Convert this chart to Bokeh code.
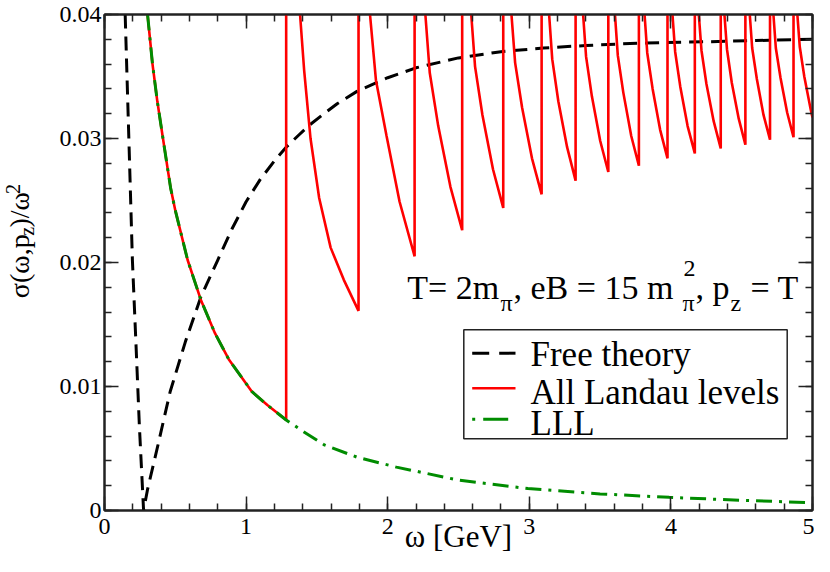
import numpy as np
from bokeh.plotting import figure
from bokeh.layouts import row
from bokeh.models import (Range1d, FixedTicker, LinearAxis, Label, BoxAnnotation, Arrow)
from bokeh.embed import file_html
from bokeh.resources import INLINE

# ---------------- data ----------------
# Free theory (black dashed)
free_w = [0.146, 0.172, 0.197, 0.222, 0.246, 0.276, 0.304, 0.378, 0.464, 0.571,
          0.680, 0.800, 0.900, 1.000, 1.100, 1.200, 1.283, 1.365, 1.450, 1.550,
          1.643, 1.783, 2.000, 2.200, 2.500, 2.800, 3.100, 3.400, 3.800, 4.240,
          4.600, 5.000]
free_s = [0.0400, 0.0300, 0.0202, 0.0135, 0.0069, 0.0000, 0.0017, 0.0053, 0.0096, 0.0136,
          0.0172, 0.0202, 0.0227, 0.0249, 0.0267, 0.0282, 0.0293, 0.0302, 0.0311, 0.0320,
          0.0328, 0.0338, 0.0349, 0.0357, 0.0365, 0.0370, 0.0373, 0.0375, 0.0377, 0.0378,
          0.0379, 0.0380]

# Lowest Landau level (green dash-dot)
lll_w = [0.304, 0.339, 0.373, 0.413, 0.467, 0.500, 0.587, 0.680, 0.780, 0.877,
         1.040, 1.150, 1.283, 1.400, 1.551, 1.783, 2.061, 2.500, 2.990, 3.500,
         3.988, 4.500, 5.000]
lll_s = [0.0400, 0.0360, 0.0330, 0.0300, 0.0260, 0.0242, 0.0202, 0.0170, 0.0143, 0.0122,
         0.0096, 0.0085, 0.0073, 0.0064, 0.0053, 0.0043, 0.0035, 0.00245, 0.00177, 0.00134,
         0.00106, 0.00082, 0.00063]

# All Landau levels (red): follows the LLL up to the first threshold, then saw teeth
all_w = [1.283, 1.381, 1.410, 1.455, 1.516, 1.597, 1.690, 1.794,
         1.794, 1.875, 1.917, 1.992, 2.084, 2.190,
         2.190, 2.266, 2.297, 2.357, 2.443, 2.526,
         2.526, 2.590, 2.617, 2.669, 2.744, 2.816,
         2.816, 2.874, 2.900, 2.949, 3.019, 3.087,
         3.087, 3.140, 3.162, 3.205, 3.267, 3.327,
         3.327, 3.380, 3.401, 3.442, 3.501, 3.558,
         3.558, 3.605, 3.625, 3.664, 3.720, 3.774,
         3.774, 3.814, 3.833, 3.871, 3.924, 3.976,
         3.976, 4.011, 4.030, 4.066, 4.118, 4.169,
         4.169, 4.197, 4.216, 4.251, 4.302, 4.352,
         4.352, 4.378, 4.396, 4.430, 4.479, 4.526,
         4.526, 4.557, 4.574, 4.607, 4.654, 4.700,
         4.700, 4.724, 4.741, 4.774, 4.821, 4.866,
         4.866, 4.893, 4.910, 4.942, 4.988, 5.000]
all_s = [0.045, 0.0400, 0.0355, 0.0300, 0.0252, 0.0212, 0.0186, 0.0161,
         0.045, 0.0400, 0.0347, 0.0302, 0.0249, 0.0205,
         0.045, 0.0400, 0.0353, 0.0310, 0.0261, 0.0226,
         0.045, 0.0400, 0.0358, 0.0319, 0.0275, 0.0244,
         0.045, 0.0400, 0.0361, 0.0325, 0.0284, 0.0255,
         0.045, 0.0400, 0.0364, 0.0330, 0.0293, 0.0266,
         0.045, 0.0400, 0.0366, 0.0334, 0.0298, 0.0273,
         0.045, 0.0400, 0.0367, 0.0337, 0.0302, 0.0278,
         0.045, 0.0400, 0.0369, 0.0340, 0.0307, 0.0284,
         0.045, 0.0400, 0.0370, 0.0342, 0.0310, 0.0288,
         0.045, 0.0400, 0.0371, 0.0344, 0.0314, 0.0292,
         0.045, 0.0400, 0.0372, 0.0345, 0.0316, 0.0295,
         0.045, 0.0400, 0.0373, 0.0348, 0.0319, 0.0299,
         0.045, 0.0400, 0.0373, 0.0349, 0.0321, 0.0301,
         0.045, 0.0400, 0.0374, 0.0350, 0.0323, 0.0317]

x_ticks = [0, 1, 2, 3, 4, 5]
x_tick_labels = ["0", "1", "2", "3", "4", "5"]
y_ticks = [0.0, 0.01, 0.02, 0.03, 0.04]
y_tick_labels = ["0", "0.01", "0.02", "0.03", "0.04"]
x_minor = [round(0.2 * i, 6) for i in range(26)]
y_minor = [round(0.002 * i, 6) for i in range(21)]

series_labels = ["Free theory", "All Landau levels", "LLL"]
x_title = "ω [GeV]"

# red curve = LLL part up to the first threshold + saw teeth
red_w = [w for w in lll_w if w <= 1.283] + all_w
red_s = [s for w, s in zip(lll_w, lll_s) if w <= 1.283] + all_s

# ---------------- layout constants (page pixels) ----------------
FONT = "Liberation Serif"
AX = "#222222"
RED, GREEN = "#ff0000", "#008c00"
TOTAL_W, TOTAL_H = 814, 556
YT_W = 40                       # narrow strip holding the y title
FL, FT, FB = 104, 14, 514       # frame left / top / bottom
BASE_FIX = 0.21                 # text baseline correction (fraction of font size)

p = figure(width=TOTAL_W - YT_W, height=TOTAL_H, output_backend="svg", toolbar_location=None,
           x_range=Range1d(0, 5), y_range=Range1d(0, 0.04),
           x_axis_location=None, y_axis_location=None,
           min_border_left=FL - YT_W, min_border_right=2,
           min_border_top=FT, min_border_bottom=TOTAL_H - FB)
p.xgrid.visible = False
p.ygrid.visible = False
p.outline_line_color = AX
p.outline_line_width = 2
p.background_fill_color = "white"
p.border_fill_color = "white"

xt = FixedTicker(ticks=x_ticks, minor_ticks=x_minor)
yt = FixedTicker(ticks=y_ticks, minor_ticks=y_minor)

bottom = LinearAxis(ticker=xt, major_label_overrides=dict(zip(x_ticks, x_tick_labels)))
left = LinearAxis(ticker=yt, major_label_overrides=dict(zip(y_ticks, y_tick_labels)))
top = LinearAxis(ticker=xt)
right = LinearAxis(ticker=yt)
p.add_layout(bottom, "below")
p.add_layout(left, "left")
p.add_layout(top, "above")
p.add_layout(right, "right")

for ax in [bottom, left, top, right]:
    ax.major_tick_in = 14
    ax.major_tick_out = 0
    ax.minor_tick_in = 7
    ax.minor_tick_out = 0
    ax.major_tick_line_width = 1.5
    ax.minor_tick_line_width = 1.5
    ax.major_tick_line_color = AX
    ax.minor_tick_line_color = AX
    ax.axis_line_color = AX
    ax.axis_line_width = 2
    ax.major_label_text_font = FONT
    ax.major_label_text_color = "black"

bottom.major_label_text_font_size = "24px"
left.major_label_text_font_size = "24px"
bottom.major_label_standoff = 8
left.major_label_standoff = 3
bottom.axis_label = x_title
bottom.axis_label_text_font = FONT
bottom.axis_label_text_font_size = "31px"
bottom.axis_label_text_font_style = "normal"
bottom.axis_label_text_color = "black"
bottom.axis_label_standoff = -18
for ax in [top, right]:
    ax.major_label_text_font_size = "1px"
    ax.major_label_text_color = None
    ax.major_label_standoff = 0

r_free = p.line(free_w, free_s, line_color="black", line_width=3, line_dash="14 8")
r_all = p.line(red_w, red_s, line_color=RED, line_width=2.6)
r_lll = p.line(lll_w, lll_s, line_color=GREEN, line_width=3, line_dash="16 7 3 7")


def sx(xp):
    return xp - FL


def sy(yp):
    return FB - yp


def lab(fig, text, x, y, size, rotated=False, units="screen"):
    if rotated:
        x, angle = x - BASE_FIX * size, np.pi / 2
    else:
        y, angle = y + BASE_FIX * size, 0.0
    fig.add_layout(Label(x=x, y=y, x_units=units, y_units=units,
                         text=text, text_font=FONT, text_font_size=f"{size}px",
                         text_baseline="alphabetic", text_align="left", angle=angle,
                         text_color="black"))


# ---------------- legend (box, samples, labels) ----------------
p.add_layout(BoxAnnotation(left=sx(463.3), right=sx(786.7), top=sy(333.3), bottom=sy(442.3),
                           left_units="screen", right_units="screen",
                           top_units="screen", bottom_units="screen",
                           fill_color="white", fill_alpha=1.0,
                           line_color=AX, line_width=1.5, line_alpha=1.0, line_dash="solid"))
legend_rows = [  # (sample y, text baseline y, colour, width, dash)
    (356.7, 365.0, "black", 3, "17 10"),
    (391.7, 403.3, RED, 2.6, "solid"),
    (422.7, 434.3, GREEN, 3, "3 8 25 8"),
]
for (ly, tb, col, lw, dash), text in zip(legend_rows, series_labels):
    p.add_layout(Arrow(x_start=sx(471.7), y_start=sy(ly), x_end=sx(515), y_end=sy(ly),
                       start_units="screen", end_units="screen", start=None, end=None,
                       line_color=col, line_width=lw, line_dash=dash))
    lab(p, text, sx(530), sy(tb), 35)

# ---------------- annotation T= 2m_pi, eB = 15 m_pi^2, p_z = T ----------------
for text, xp, yp, sz in [("T= 2m", 406.7, 298, 34), ("π", 500, 311.5, 24),
                         (", eB = 15 m", 513, 298, 34), ("π", 682, 311.5, 24),
                         ("2", 683, 277, 24), (", p", 695, 298, 34),
                         ("z", 730, 311.5, 24), ("= T", 750, 298, 34)]:
    lab(p, text, sx(xp), sy(yp), sz)

# ---------------- y title strip ----------------
yfig = figure(width=YT_W, height=TOTAL_H, output_backend="svg", toolbar_location=None,
              x_range=Range1d(0, YT_W), y_range=Range1d(0, TOTAL_H),
              x_axis_location=None, y_axis_location=None, min_border=0,
              min_border_left=0, min_border_right=0, min_border_top=0, min_border_bottom=0)
yfig.xgrid.visible = False
yfig.ygrid.visible = False
yfig.outline_line_color = None
yfig.background_fill_color = "white"
yfig.border_fill_color = "white"

M, S = 28, 20
y0 = 318
w1 = 2.50 * M          # "σ(ω,p"
w2 = 0.46 * S          # "z"
w3 = 1.34 * M          # ")/ω"
for text, xb, yb, sz in [("σ(ω,p", 25, y0, M), ("z", 31, y0 - w1, S),
                         (")/ω", 25, y0 - w1 - w2, M), ("2", 17, y0 - w1 - w2 - w3, S)]:
    lab(yfig, text, xb, TOTAL_H - yb, sz, rotated=True, units="data")

layout = row(yfig, p, spacing=0)
open("out.html", "w").write(file_html(layout, INLINE))
